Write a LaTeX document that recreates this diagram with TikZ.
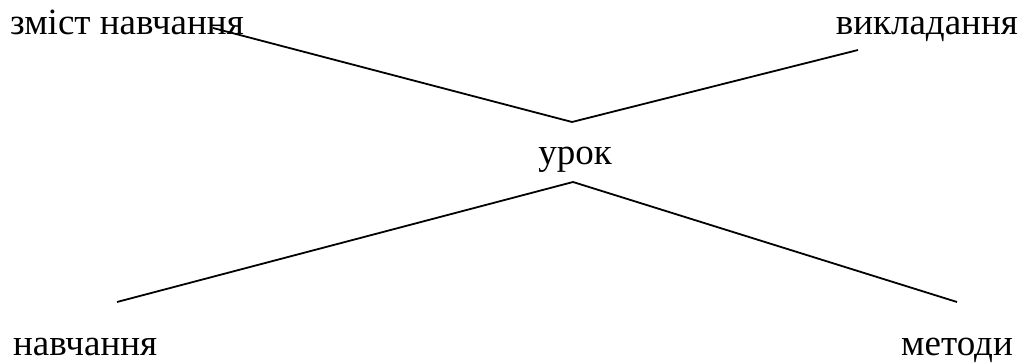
\documentclass[tikz,border=0pt]{standalone}
\usepackage{fontspec}
\setmainfont{Liberation Serif}
\begin{document}
\begin{tikzpicture}[x=1pt,y=-1pt,
  lbl/.style={inner sep=0pt,font=\fontsize{37}{44}\selectfont},
  link/.style={line width=1.8pt}]
\useasboundingbox (0,0) rectangle (1024,363);
% labels
\node[lbl,anchor=base west] (zmist) at (10,35) {зміст навчання};
\node[lbl,anchor=base east] (vykl) at (1018,35) {викладання};
\node[lbl,anchor=base] (urok) at (575,165) {урок};
\node[lbl,anchor=base west] (navch) at (13,355) {навчання};
\node[lbl,anchor=base east] (metody) at (1013,355) {методи};
% line end points
\coordinate (top) at (572,122);
\coordinate (bot) at (573,182);
\coordinate (zmistEnd) at (213,28);
\coordinate (vyklEnd) at (858,50);
\coordinate (navchEnd) at (117,302);
\coordinate (metodyEnd) at (957,302);
% connectors
\draw[link] (zmistEnd) -- (top) -- (vyklEnd);
\draw[link] (navchEnd) -- (bot) -- (metodyEnd);
\end{tikzpicture}
\end{document}
